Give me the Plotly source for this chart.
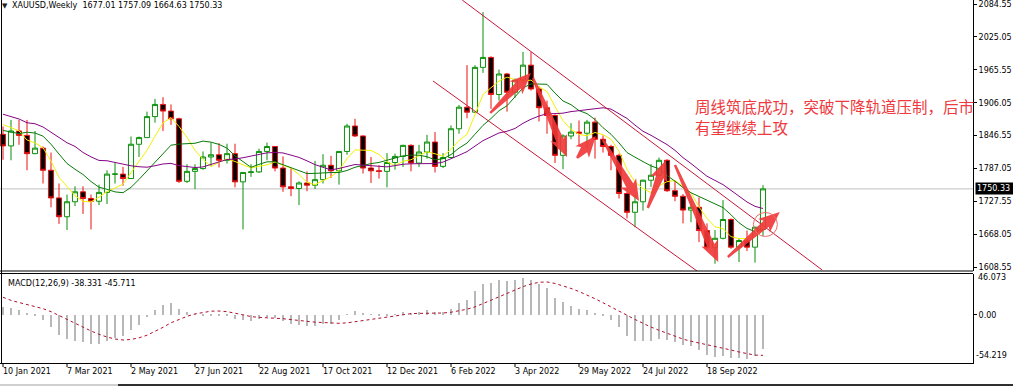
import math
import pandas as pd
import plotly.graph_objects as go

# ---------------- data (weekly XAUUSD, bars dated by Sunday) ----------------
week_start = "2021-01-10"
opens = [1849, 1828, 1855, 1847, 1814, 1824, 1784, 1734, 1700, 1727, 1745, 1733, 1728, 1744, 1777, 1777,
         1769, 1831, 1843, 1881, 1903, 1891, 1877, 1764, 1782, 1787, 1808, 1812, 1802, 1814, 1763, 1780,
         1781, 1818, 1827, 1788, 1754, 1751, 1761, 1757, 1767, 1793, 1783, 1818, 1864, 1846, 1788, 1783,
         1782, 1798, 1809, 1829, 1797, 1817, 1835, 1791, 1807, 1859, 1898, 1889, 1970, 1988, 1921, 1958,
         1925, 1947, 1974, 1931, 1897, 1883, 1811, 1846, 1853, 1851, 1871, 1840, 1827, 1811, 1742, 1708,
         1727, 1766, 1775, 1802, 1747, 1737, 1712, 1717, 1675, 1644, 1661, 1695, 1645, 1657, 1645, 1677.01]
highs = [1863, 1875, 1875, 1875, 1855, 1827, 1816, 1760, 1740, 1755, 1755, 1740, 1758, 1784, 1798, 1790,
         1845, 1845, 1890, 1913, 1916, 1903, 1879, 1795, 1795, 1818, 1834, 1833, 1832, 1832, 1780, 1795,
         1823, 1834, 1827, 1809, 1788, 1764, 1782, 1801, 1813, 1810, 1818, 1868, 1877, 1847, 1808, 1793,
         1815, 1814, 1830, 1831, 1830, 1848, 1853, 1815, 1865, 1902, 1974, 1974, 2070, 1990, 1966, 1960,
         1950, 1998, 1998, 1936, 1910, 1885, 1849, 1869, 1874, 1875, 1879, 1847, 1830, 1814, 1745, 1739,
         1767, 1795, 1807, 1804, 1765, 1741, 1729, 1735, 1688, 1676, 1730, 1697, 1660, 1675, 1682, 1757.09]
lows = [1803, 1802, 1830, 1784, 1813, 1760, 1717, 1687, 1676, 1719, 1705, 1677, 1721, 1723, 1760, 1756,
        1769, 1808, 1843, 1870, 1855, 1866, 1761, 1761, 1750, 1785, 1792, 1789, 1796, 1753, 1677, 1772,
        1779, 1802, 1782, 1745, 1737, 1721, 1746, 1750, 1760, 1770, 1758, 1812, 1844, 1778, 1761, 1769,
        1753, 1785, 1790, 1782, 1790, 1805, 1780, 1788, 1807, 1850, 1878, 1888, 1960, 1895, 1910, 1890,
        1915, 1941, 1928, 1872, 1850, 1797, 1786, 1840, 1828, 1825, 1805, 1816, 1784, 1733, 1697, 1681,
        1711, 1754, 1773, 1745, 1728, 1688, 1690, 1654, 1639, 1615, 1659, 1642, 1618, 1638, 1617, 1664.63]
closes = [1828, 1855, 1847, 1814, 1824, 1784, 1734, 1700, 1727, 1745, 1733, 1728, 1744, 1777, 1777, 1769,
          1831, 1843, 1881, 1903, 1891, 1877, 1764, 1782, 1787, 1808, 1812, 1802, 1814, 1763, 1780, 1781,
          1818, 1827, 1788, 1754, 1751, 1761, 1757, 1767, 1793, 1783, 1818, 1864, 1846, 1788, 1783, 1782,
          1798, 1809, 1829, 1797, 1817, 1835, 1791, 1807, 1859, 1898, 1889, 1970, 1988, 1921, 1958, 1925,
          1947, 1974, 1931, 1897, 1883, 1811, 1846, 1853, 1851, 1871, 1840, 1827, 1811, 1742, 1708, 1727,
          1766, 1775, 1802, 1747, 1737, 1712, 1717, 1675, 1644, 1661, 1695, 1645, 1657, 1645, 1681, 1750.33]
# weekly closes before the visible window (indicator history), oldest first
history_closes = [1552, 1562, 1557, 1571, 1589, 1570, 1584, 1643, 1585, 1674, 1530, 1498, 1617, 1620,
                  1683, 1683, 1726, 1700, 1702, 1743, 1734, 1730, 1685, 1730, 1744, 1771, 1775, 1799,
                  1810, 1902, 1975, 2035, 1944, 1940, 1964, 1934, 1940, 1950, 1861, 1900, 1930, 1899,
                  1902, 1879, 1951, 1889, 1871, 1788, 1839, 1840, 1881, 1877, 1898, 1849]

date_tick_labels = ["10 Jan 2021", "7 Mar 2021", "2 May 2021", "27 Jun 2021", "22 Aug 2021",
                    "17 Oct 2021", "12 Dec 2021", "6 Feb 2022", "3 Apr 2022", "29 May 2022",
                    "24 Jul 2022", "18 Sep 2022"]
price_ticks = [2084.55, 2025.05, 1965.55, 1906.05, 1846.55, 1787.05, 1727.55, 1668.05, 1608.55]
macd_max, macd_min = 46.073, -54.219
macd_last, signal_last = -38.331, -45.711
bid = 1750.33

ma_specs = [(5, "#f2f200"), (10, "#0a7a0a"), (20, "#850585")]

# drawings (index of weekly bar, price)
channel_upper = [(57.4, 2091.8), (102.4, 1603.7)]
channel_lower = [(53.75, 1945.4), (86.75, 1601.9)]
arrows = [((60.9, 1887.5), (66.0, 1959.8)),
          ((66.25, 1950.8), (70.5, 1808.0)),
          ((71.75, 1806.1), (74.1, 1845.9)),
          ((75.0, 1838.7), (79.5, 1728.4)),
          ((80.6, 1715.8), (82.9, 1802.5)),
          ((84.0, 1793.5), (89.4, 1618.1)),
          ((90.6, 1627.2), (97.1, 1708.6))]
circle_center = (95.3, 1686.0)

# ---------------- indicators ----------------
dates = pd.date_range(week_start, periods=len(closes), freq="7D")
idx = list(range(len(closes)))
all_close = pd.Series(history_closes + closes, dtype=float)
n_hist = len(history_closes)
mas = [(all_close.rolling(p).mean().iloc[n_hist:].tolist(), c) for p, c in ma_specs]
macd_all = all_close.ewm(span=12, adjust=False).mean() - all_close.ewm(span=26, adjust=False).mean()
signal_all = macd_all.rolling(9).mean()
macd = macd_all.iloc[n_hist:].tolist()
signal = signal_all.iloc[n_hist:].tolist()

# ---------------- geometry ----------------
W, H = 1013, 387
PW, PH = 973, 363          # plot area
MAIN_BOT = 271             # px, bottom of price window
MACD_TOP = 274             # px, top of MACD window
BAR_PX = 8.0
X0 = 3.0
x_range = [-X0 / BAR_PX, -X0 / BAR_PX + PW / BAR_PX]
ppx = 1.8078
y_range = [price_ticks[0] - (MAIN_BOT - 4) * ppx, price_ticks[0] + 4 * ppx]


def to_px(i, p):
    x = (i - x_range[0]) * BAR_PX
    y = (y_range[1] - p) / (y_range[1] - y_range[0]) * MAIN_BOT
    return x, y


def to_paper(x, y):
    return x / PW, 1 - y / PH


FONT = "DejaVu Sans"
fig = go.Figure()

fig.add_trace(go.Candlestick(
    x=idx, open=opens, high=highs, low=lows, close=closes,
    increasing=dict(line=dict(color="#0a900a", width=1), fillcolor="white"),
    decreasing=dict(line=dict(color="#ee1111", width=1), fillcolor="black"),
    whiskerwidth=0, hoverinfo="skip", xaxis="x", yaxis="y"))

for vals, col in mas:
    fig.add_trace(go.Scatter(x=idx, y=vals, mode="lines", line=dict(color=col, width=1),
                             hoverinfo="skip", xaxis="x", yaxis="y"))

fig.add_trace(go.Bar(x=idx, y=macd, width=0.2, marker=dict(color="#b8b8b8", line=dict(width=0)),
                     hoverinfo="skip", xaxis="x2", yaxis="y2"))
fig.add_trace(go.Scatter(x=idx, y=signal, mode="lines", line=dict(color="#b0102c", width=1, dash="dot"),
                         hoverinfo="skip", xaxis="x2", yaxis="y2"))

shapes = []
# bid line
shapes.append(dict(type="line", xref="paper", yref="y", x0=0, x1=1, y0=bid, y1=bid,
                   line=dict(color="#c0c0c0", width=1), layer="below"))
# channel
for (a, b) in (channel_upper, channel_lower):
    shapes.append(dict(type="line", xref="x", yref="y", x0=a[0], y0=a[1], x1=b[0], y1=b[1],
                       line=dict(color="#c8183a", width=1)))
# arrows
for tail, head in arrows:
    tx, ty = to_px(*tail)
    hx, hy = to_px(*head)
    L = math.hypot(hx - tx, hy - ty)
    ux, uy = (hx - tx) / L, (hy - ty) / L
    nx, ny = -uy, ux
    hl, hw, sw0, sw1 = 18.0, 9.0, 1.2, 4.0
    bx, by = hx - ux * hl, hy - uy * hl
    pts = [(tx + nx * sw0, ty + ny * sw0), (bx + nx * sw1, by + ny * sw1),
           (bx - ux * 3 + nx * hw, by - uy * 3 + ny * hw), (hx, hy),
           (bx - ux * 3 - nx * hw, by - uy * 3 - ny * hw), (bx - nx * sw1, by - ny * sw1),
           (tx - nx * sw0, ty - ny * sw0)]
    path = "M " + " L ".join("%.5f,%.5f" % to_paper(x, y) for x, y in pts) + " Z"
    shapes.append(dict(type="path", xref="paper", yref="paper", path=path,
                       fillcolor="rgba(240,58,58,0.92)", line=dict(width=0)))
# circle
cx, cy = to_px(*circle_center)
r = 12
x0p, y0p = to_paper(cx - r, cy + r)
x1p, y1p = to_paper(cx + r, cy - r)
shapes.append(dict(type="circle", xref="paper", yref="paper", x0=x0p, x1=x1p, y0=y0p, y1=y1p,
                   line=dict(color="#f06a6a", width=1)))
# borders
for ypx in (MAIN_BOT, MACD_TOP - 0.5):
    shapes.append(dict(type="line", xref="paper", yref="paper", x0=0, x1=1,
                       y0=1 - ypx / PH, y1=1 - ypx / PH, line=dict(color="black", width=1)))
shapes.append(dict(type="line", xref="paper", yref="paper", x0=1.5 / PW, x1=1.5 / PW, y0=0, y1=1,
                   line=dict(color="black", width=1)))
# bottom date ticks
for k in range(len(date_tick_labels)):
    shapes.append(dict(type="line", xref="x2", yref="paper", x0=idx[k * 8], x1=idx[k * 8],
                       y0=0, y1=-4 / PH, line=dict(color="black", width=1)))
# tab bar line
shapes.append(dict(type="line", xref="paper", yref="paper", x0=0, x1=118 / PW,
                   y0=1 - 385 / PH, y1=1 - 385 / PH, line=dict(color="#a0a0a0", width=1)))
shapes.append(dict(type="line", xref="paper", yref="paper", x0=118 / PW, x1=W / PW,
                   y0=1 - 385 / PH, y1=1 - 385 / PH, line=dict(color="#303030", width=2)))

ann = []
tick_font = dict(family=FONT, size=8, color="black")
for k, lab in enumerate(date_tick_labels):
    ann.append(dict(x=idx[k * 8], xref="x2", y=1 - 372 / PH, yref="paper", text=lab, showarrow=False,
                    xanchor="left", yanchor="middle", xshift=-2, font=tick_font))
ann.append(dict(x=4.5 / PW, y=1 - 6 / PH, xref="paper", yref="paper", text="▼", showarrow=False,
                xanchor="center", yanchor="middle", font=dict(family=FONT, size=7, color="#202020")))
ann.append(dict(x=10 / PW, y=1 - 6 / PH, xref="paper", yref="paper",
                text="XAUUSD,Weekly  %.2f %.2f %.2f %.2f" % (opens[-1], highs[-1], lows[-1], closes[-1]),
                showarrow=False, xanchor="left", yanchor="middle", font=tick_font))
ann.append(dict(x=6 / PW, y=1 - 283 / PH, xref="paper", yref="paper",
                text="MACD(12,26,9) %.3f %.3f" % (macd_last, signal_last),
                showarrow=False, xanchor="left", yanchor="middle", font=tick_font))
cn_font = dict(family="Noto Sans CJK SC", size=15.5, color="#ee3a40")
ann.append(dict(x=693 / PW, y=1 - 106 / PH, xref="paper", yref="paper",
                text="周线筑底成功，突破下降轨道压制，后市", showarrow=False,
                xanchor="left", yanchor="middle", font=cn_font))
ann.append(dict(x=693 / PW, y=1 - 127 / PH, xref="paper", yref="paper",
                text="有望继续上攻", showarrow=False, xanchor="left", yanchor="middle", font=cn_font))
ann.append(dict(x=975.5 / PW, y=bid, xref="paper", yref="y", text="%.2f" % bid, showarrow=False,
                xanchor="left", yanchor="middle", bgcolor="black", borderpad=1, width=36, align="left",
                font=dict(family=FONT, size=8, color="white")))
ann.append(dict(x=976 / PW, y=1 - 277 / PH, xref="paper", yref="paper", text="%.3f" % macd_max,
                showarrow=False, xanchor="left", yanchor="middle", font=tick_font))
ann.append(dict(x=974 / PW, y=1 - 355 / PH, xref="paper", yref="paper", text="%.3f" % macd_min,
                showarrow=False, xanchor="left", yanchor="middle", font=tick_font))

axis_common = dict(showgrid=False, zeroline=False, fixedrange=True)
fig.update_layout(
    width=W, height=H, margin=dict(l=0, r=W - PW, t=0, b=H - PH),
    paper_bgcolor="white", plot_bgcolor="white", showlegend=False,
    boxgap=0.2, boxgroupgap=0.2,
    xaxis=dict(domain=[0, 1], range=x_range, anchor="y", showticklabels=False, showline=False,
               rangeslider=dict(visible=False), **axis_common),
    yaxis=dict(domain=[1 - MAIN_BOT / PH, 1], range=y_range, anchor="x", side="right",
               tickvals=price_ticks, ticktext=["%.2f" % v for v in price_ticks],
               ticks="outside", ticklen=3, tickcolor="black", showline=True, linecolor="black",
               tickfont=tick_font, ticklabeloverflow="allow", **axis_common),
    xaxis2=dict(domain=[0, 1], range=x_range, anchor="y2", showticklabels=False, showline=True,
                linecolor="black", **axis_common),
    yaxis2=dict(domain=[0, 1 - MACD_TOP / PH], range=[macd_min, macd_max], anchor="x2", side="right",
                tickvals=[0], ticktext=["0.00"], ticks="outside", ticklen=3, tickcolor="black",
                showline=True, linecolor="black", tickfont=tick_font, ticklabeloverflow="allow",
                **axis_common),
    shapes=shapes, annotations=ann, bargap=0,
)
fig.write_html("out.html")
